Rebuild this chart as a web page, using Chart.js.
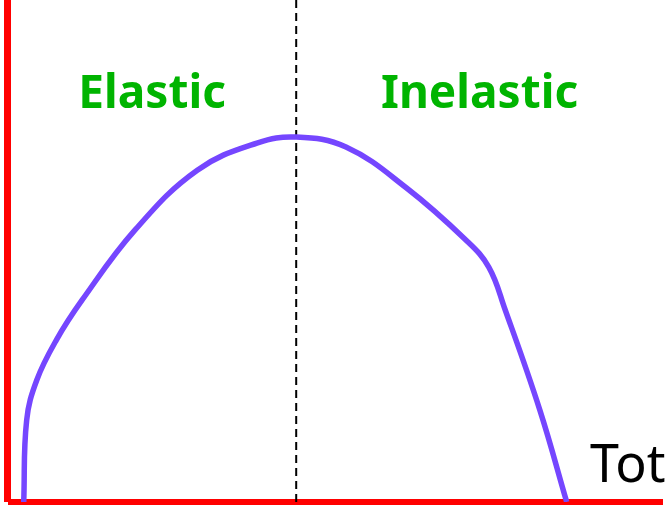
<!DOCTYPE html>
<html>
<head>
<meta charset="utf-8">
<script src="https://cdn.jsdelivr.net/npm/chart.js@4"></script>
<style>
  html, body { margin: 0; padding: 0; background: #fff; }
  canvas { display: block; }
</style>
</head>
<body>
<canvas id="chart" width="667" height="506"></canvas>
<script>
// quantity (x) and total revenue (y)
const quantity = [2.4, 2.85, 4.4, 7.4, 11.3, 19.4, 28.9, 38.0, 44.0, 51.6, 60.8, 69.9, 73.4, 75.9, 81.2, 85.3];
const totalRevenue = [0, 16.3, 24.3, 32.3, 40.2, 54.2, 66.1, 71.5, 72.7, 70.7, 62.6, 52.2, 46.8, 38.3, 18.3, 0];

// unit-elastic point, where revenue peaks
const peakQuantity = [44, 44];
const peakLine = [0, 100];

const regionLabels = ['Elastic', 'Inelastic'];
const regionCenters = [22, 72]; // in quantity units
const axisLabel = 'Tot';

const toPoints = (xs, ys) => xs.map((x, i) => ({ x: x, y: ys[i] }));

// red axes and the text labels
const decorations = {
  id: 'decorations',
  beforeDatasetsDraw(chart) {
    const { ctx, scales: { x, y } } = chart;
    const x0 = x.getPixelForValue(0);
    const y0 = y.getPixelForValue(0);
    ctx.save();
    ctx.strokeStyle = '#ff0000';
    ctx.lineWidth = 7;
    ctx.beginPath();
    ctx.moveTo(x0 - 0.5, y.getPixelForValue(100));
    ctx.lineTo(x0 - 0.5, y0);
    ctx.stroke();
    ctx.lineWidth = 6;
    ctx.beginPath();
    ctx.moveTo(x0, y0);
    ctx.lineTo(x.getPixelForValue(100), y0);
    ctx.stroke();
    ctx.restore();
  },
  afterDatasetsDraw(chart) {
    const { ctx, scales: { x } } = chart;
    ctx.save();
    ctx.fillStyle = '#00b400';
    ctx.font = 'bold 46px "Noto Sans", sans-serif';
    ctx.textAlign = 'center';
    ctx.textBaseline = 'alphabetic';
    regionLabels.forEach((label, i) => {
      ctx.fillText(label, x.getPixelForValue(regionCenters[i]), 108);
    });
    ctx.fillStyle = '#000';
    ctx.font = '52px "Noto Sans", sans-serif';
    ctx.textAlign = 'left';
    ctx.fillText(axisLabel, 590, 482);
    ctx.restore();
  }
};

new Chart(document.getElementById('chart'), {
  type: 'scatter',
  data: {
    datasets: [
      {
        label: 'Total revenue',
        data: toPoints(quantity, totalRevenue),
        showLine: true,
        borderColor: '#7546ff',
        borderWidth: 5.5,
        pointRadius: 0,
        tension: 0.4,
        fill: false
      },
      {
        label: 'Unit elastic',
        data: toPoints(peakQuantity, peakLine),
        showLine: true,
        borderColor: '#000',
        borderWidth: 2,
        borderDash: [8, 5],
        pointRadius: 0
      }
    ]
  },
  options: {
    responsive: false,
    animation: false,
    devicePixelRatio: 1,
    layout: { padding: { left: 8, right: 4, top: 0, bottom: 4 } },
    plugins: {
      legend: { display: false },
      tooltip: { enabled: false }
    },
    scales: {
      x: { type: 'linear', min: 0, max: 100, display: false },
      y: { type: 'linear', min: 0, max: 100, display: false }
    }
  },
  plugins: [decorations]
});
</script>
</body>
</html>
